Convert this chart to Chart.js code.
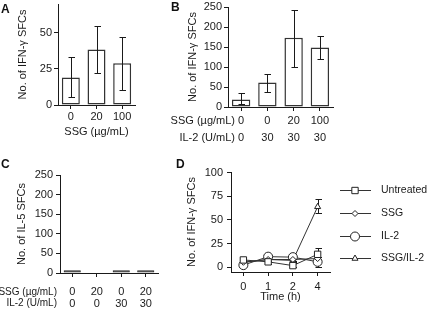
<!DOCTYPE html>
<html>
<head>
<meta charset="utf-8">
<script src="https://cdn.jsdelivr.net/npm/chart.js"></script>
<style>
  html, body { margin: 0; padding: 0; background: #fff; }
  #fig { position: relative; width: 427px; height: 311px; overflow: hidden; }
  #fig canvas { position: absolute; }
  .tag { position: absolute; font: bold 12px "Liberation Sans", Arial, sans-serif; color: #111; }
</style>
</head>
<body>
<div id="fig">
  <canvas id="chartA"></canvas>
  <canvas id="chartB"></canvas>
  <canvas id="chartC"></canvas>
  <canvas id="chartD"></canvas>
  <div class="tag" style="left:1px;top:2px">A</div>
  <div class="tag" style="left:171px;top:0px">B</div>
  <div class="tag" style="left:1px;top:157px">C</div>
  <div class="tag" style="left:176px;top:157px">D</div>
</div>
<script>
// ---- data ----
const ssgA = ['0', '20', '100'];
const ifngA = [19, 38.5, 29];
const ifngALow = [5.5, 22.5, 10.5];
const ifngAHigh = [33, 55, 47];

const ssgB = ['0', '0', '20', '100'];
const il2B = ['0', '30', '30', '30'];
const ifngB = [19, 61, 173, 149];
const ifngBLow = [7, 38, 101, 121];
const ifngBHigh = [35, 82, 242, 177];

const ssgC = ['0', '20', '0', '20'];
const il2C = ['0', '0', '30', '30'];
const il5C = [7, 0, 7, 7];

const timeLabels = ['0', '1', '2', '4'];
const untreated = [7.5, 5.5, 1.5, 13.5];
const untreatedLow = [5, 3, 0, 7];
const untreatedHigh = [10, 8, 4, 20];
const ssgOnly = [5, 8, 8, 9];
const ssgOnlyLow = [3, 6, 6, 7];
const ssgOnlyHigh = [7, 10, 10, 11];
const il2Only = [2, 11, 10.5, 5.5];
const il2OnlyLow = [0, 9, 8.5, 0];
const il2OnlyHigh = [4, 13, 12.5, 11];
const ssgIl2 = [5, 8, 7, 64];
const ssgIl2Low = [3, 6, 5, 57];
const ssgIl2High = [7, 10, 9, 72];

const FONT = '"Liberation Sans", Arial, sans-serif';
const INK = '#1a1a1a';

// error bars drawn through the y scale
const errorBars = {
  id: 'errorBars',
  draw(chart) {
    const ctx = chart.ctx;
    const y = chart.scales.y;
    chart.data.datasets.forEach((ds, i) => {
      if (!ds.errLow) return;
      const meta = chart.getDatasetMeta(i);
      ctx.save();
      ctx.strokeStyle = INK;
      ctx.lineWidth = 1;
      meta.data.forEach((el, j) => {
        const lo = ds.errLow[j], hi = ds.errHigh[j];
        if (lo == null || lo === hi) return;
        const x = Math.round(el.x) + 0.5;
        const yl = Math.round(y.getPixelForValue(lo)) + 0.5;
        const yh = Math.round(y.getPixelForValue(hi)) + 0.5;
        ctx.beginPath();
        ctx.moveTo(x, yl); ctx.lineTo(x, yh);
        ctx.moveTo(x - 3, yl); ctx.lineTo(x + 3.5, yl);
        ctx.moveTo(x - 3, yh); ctx.lineTo(x + 3.5, yh);
        ctx.stroke();
      });
      ctx.restore();
    });
  },
  beforeDatasetsDraw(chart, args, opts) { if (opts.behind) this.draw(chart); },
  afterDatasetsDraw(chart, args, opts) { if (!opts.behind) this.draw(chart); }
};

// row titles to the left of multi-row category labels
const rowTitles = {
  id: 'rowTitles',
  afterDraw(chart, args, opts) {
    if (!opts.rows) return;
    const ctx = chart.ctx;
    ctx.save();
    ctx.fillStyle = INK;
    ctx.font = (opts.size || 11) + 'px ' + FONT;
    ctx.textAlign = 'right';
    ctx.textBaseline = 'middle';
    opts.rows.forEach(r => ctx.fillText(r.text, opts.x, r.y));
    ctx.restore();
  }
};

// line + marker legend on the right of panel D
const sideLegend = {
  id: 'sideLegend',
  afterDraw(chart, args, opts) {
    if (!opts.rows) return;
    const ctx = chart.ctx;
    chart.data.datasets.forEach((ds, i) => {
      const y = opts.rows[i];
      ctx.save();
      ctx.strokeStyle = ds.borderColor;
      ctx.lineWidth = 1;
      ctx.beginPath();
      ctx.moveTo(opts.x0, y + 0.5);
      ctx.lineTo(opts.x1, y + 0.5);
      ctx.stroke();
      ctx.fillStyle = '#fff';
      ctx.strokeStyle = ds.pointBorderColor;
      ctx.lineWidth = 1;
      Chart.helpers.drawPoint(ctx, { pointStyle: ds.pointStyle, radius: ds.pointRadius, rotation: 0, borderWidth: 1 }, opts.mark, y + 0.5);
      ctx.fillStyle = INK;
      ctx.font = '10.5px ' + FONT;
      ctx.textAlign = 'left';
      ctx.textBaseline = 'middle';
      ctx.fillText(ds.label, opts.text, y);
      ctx.restore();
    });
  }
};

function place(id, box) {
  const c = document.getElementById(id);
  c.width = box.w;
  c.height = box.h;
  c.style.left = box.x + 'px';
  c.style.top = box.y + 'px';
  return c;
}

function yAxis(box, area, o) {
  return {
    min: o.min, max: o.max,
    afterBuildTicks: s => { s.ticks = o.ticks.map(v => ({ value: v })); },
    afterFit: s => { s.width = area.l - box.x; },
    border: { display: true, color: INK, width: 1 },
    grid: { drawOnChartArea: false, drawTicks: true, tickLength: 4, color: INK, lineWidth: 1 },
    ticks: { color: INK, font: { family: FONT, size: 11 }, padding: o.pad },
    title: {
      display: true, text: o.title, color: INK,
      font: { family: FONT, size: 11 },
      padding: { top: o.titleX - box.x - 6.6, bottom: 0 }
    }
  };
}

function xAxis(box, area, o) {
  const ax = {
    offset: true,
    afterFit: s => { s.height = box.y + box.h - area.b; },
    border: { display: true, color: INK, width: 1 },
    grid: { offset: false, drawOnChartArea: false, drawTicks: true, tickLength: 4, color: INK, lineWidth: 1 },
    ticks: { color: INK, font: { family: FONT, size: 11, lineHeight: o.lineHeight || 1.2 }, padding: o.pad, maxRotation: 0, autoSkip: false }
  };
  if (o.title) {
    ax.title = {
      display: true, text: o.title, color: INK,
      font: { family: FONT, size: 11 },
      padding: { top: 0, bottom: box.y + box.h - o.titleY - 6.6 }
    };
  }
  return ax;
}

function layoutPad(box, area) {
  return { left: 0, top: area.t - box.y, right: box.x + box.w - area.r, bottom: 0 };
}

const barStyle = {
  backgroundColor: '#fff',
  borderColor: '#333',
  borderWidth: 1.5,
  borderSkipped: false,
  barPercentage: 0.7,
  categoryPercentage: 1
};

const basePlugins = { legend: { display: false }, tooltip: { enabled: false } };

// ---- Panel A ----
const boxA = { x: 0, y: -10, w: 160, h: 155 };
const areaA = { l: 58, t: 4, r: 135, b: 105 };
new Chart(place('chartA', boxA), {
  type: 'bar',
  data: {
    labels: ssgA,
    datasets: [Object.assign({ data: ifngA, errLow: ifngALow, errHigh: ifngAHigh }, barStyle)]
  },
  options: {
    responsive: false, animation: false, devicePixelRatio: 1,
    layout: { padding: layoutPad(boxA, areaA) },
    plugins: Object.assign({ errorBars: { behind: false } }, basePlugins),
    scales: {
      x: xAxis(boxA, areaA, { pad: 1.4, title: 'SSG (\u00b5g/mL)', titleY: 132 }),
      y: yAxis(boxA, areaA, { min: 0, max: 70, ticks: [0, 25, 50], pad: 2, title: 'No. of IFN-\u03b3 SFCs', titleX: 23 })
    }
  },
  plugins: [errorBars]
});

// ---- Panel B ----
const boxB = { x: 160, y: -10, w: 267, h: 160 };
const areaB = { l: 228, t: 7, r: 333, b: 107 };
new Chart(place('chartB', boxB), {
  type: 'bar',
  data: {
    labels: ssgB.map((s, i) => [s, il2B[i]]),
    datasets: [Object.assign({ data: ifngB, errLow: ifngBLow, errHigh: ifngBHigh }, barStyle)]
  },
  options: {
    responsive: false, animation: false, devicePixelRatio: 1,
    layout: { padding: layoutPad(boxB, areaB) },
    plugins: Object.assign({
      errorBars: { behind: false },
      rowTitles: { x: 235 - boxB.x, rows: [{ text: 'SSG (\u00b5g/mL)', y: 121 - boxB.y }, { text: 'IL-2 (U/mL)', y: 138 - boxB.y }] }
    }, basePlugins),
    scales: {
      x: xAxis(boxB, areaB, { pad: 1.5, lineHeight: '17px' }),
      y: yAxis(boxB, areaB, { min: 0, max: 250, ticks: [0, 50, 100, 150, 200, 250], pad: 2, title: 'No. of IFN-\u03b3 SFCs', titleX: 193 })
    }
  },
  plugins: [errorBars, rowTitles]
});

// ---- Panel C ----
const boxC = { x: 0, y: 150, w: 200, h: 161 };
const areaC = { l: 60, t: 175, r: 158, b: 273 };
new Chart(place('chartC', boxC), {
  type: 'bar',
  data: {
    labels: ssgC.map((s, i) => [s, il2C[i]]),
    datasets: [Object.assign({ data: il5C }, barStyle, { backgroundColor: '#2a2a2a', borderColor: '#2a2a2a', borderWidth: 1 })]
  },
  options: {
    responsive: false, animation: false, devicePixelRatio: 1,
    layout: { padding: layoutPad(boxC, areaC) },
    plugins: Object.assign({
      rowTitles: { x: 57 - boxC.x, size: 10, rows: [{ text: 'SSG (\u00b5g/mL)', y: 292 - boxC.y }, { text: 'IL-2 (U/mL)', y: 303.5 - boxC.y }] }
    }, basePlugins),
    scales: {
      x: xAxis(boxC, areaC, { pad: 9.25, lineHeight: '11.5px' }),
      y: yAxis(boxC, areaC, { min: 0, max: 250, ticks: [0, 50, 100, 150, 200, 250], pad: 3, title: 'No. of IL-5 SFCs', titleX: 22 })
    }
  },
  plugins: [rowTitles]
});

// ---- Panel D ----
const boxD = { x: 175, y: 150, w: 252, h: 161 };
const areaD = { l: 231, t: 172, r: 330, b: 272 };
const lineStyle = {
  borderColor: '#333',
  borderWidth: 1,
  pointBackgroundColor: '#fff',
  pointBorderColor: '#222',
  pointBorderWidth: 1,
  tension: 0,
  fill: false
};
new Chart(place('chartD', boxD), {
  type: 'line',
  data: {
    labels: timeLabels,
    datasets: [
      Object.assign({ label: 'Untreated', data: untreated, errLow: untreatedLow, errHigh: untreatedHigh, pointStyle: 'rect', pointRadius: 4.5 }, lineStyle),
      Object.assign({ label: 'SSG', data: ssgOnly, errLow: ssgOnlyLow, errHigh: ssgOnlyHigh, pointStyle: 'rectRot', pointRadius: 3 }, lineStyle),
      Object.assign({ label: 'IL-2', data: il2Only, errLow: il2OnlyLow, errHigh: il2OnlyHigh, pointStyle: 'circle', pointRadius: 4.5 }, lineStyle),
      Object.assign({ label: 'SSG/IL-2', data: ssgIl2, errLow: ssgIl2Low, errHigh: ssgIl2High, pointStyle: 'triangle', pointRadius: 3.5 }, lineStyle)
    ]
  },
  options: {
    responsive: false, animation: false, devicePixelRatio: 1,
    layout: { padding: layoutPad(boxD, areaD) },
    plugins: Object.assign({
      errorBars: { behind: true },
      sideLegend: { x0: 340 - boxD.x, x1: 371 - boxD.x, mark: 355 - boxD.x, text: 381 - boxD.x, rows: [190 - boxD.y, 213 - boxD.y, 236 - boxD.y, 258 - boxD.y] }
    }, basePlugins),
    scales: {
      x: xAxis(boxD, areaD, { pad: 4.4, title: 'Time (h)', titleY: 297 }),
      y: yAxis(boxD, areaD, { min: -5.3, max: 101, ticks: [0, 25, 50, 75, 100], pad: 4, title: 'No. of IFN-\u03b3 SFCs', titleX: 192 })
    }
  },
  plugins: [errorBars, sideLegend]
});
</script>
</body>
</html>
